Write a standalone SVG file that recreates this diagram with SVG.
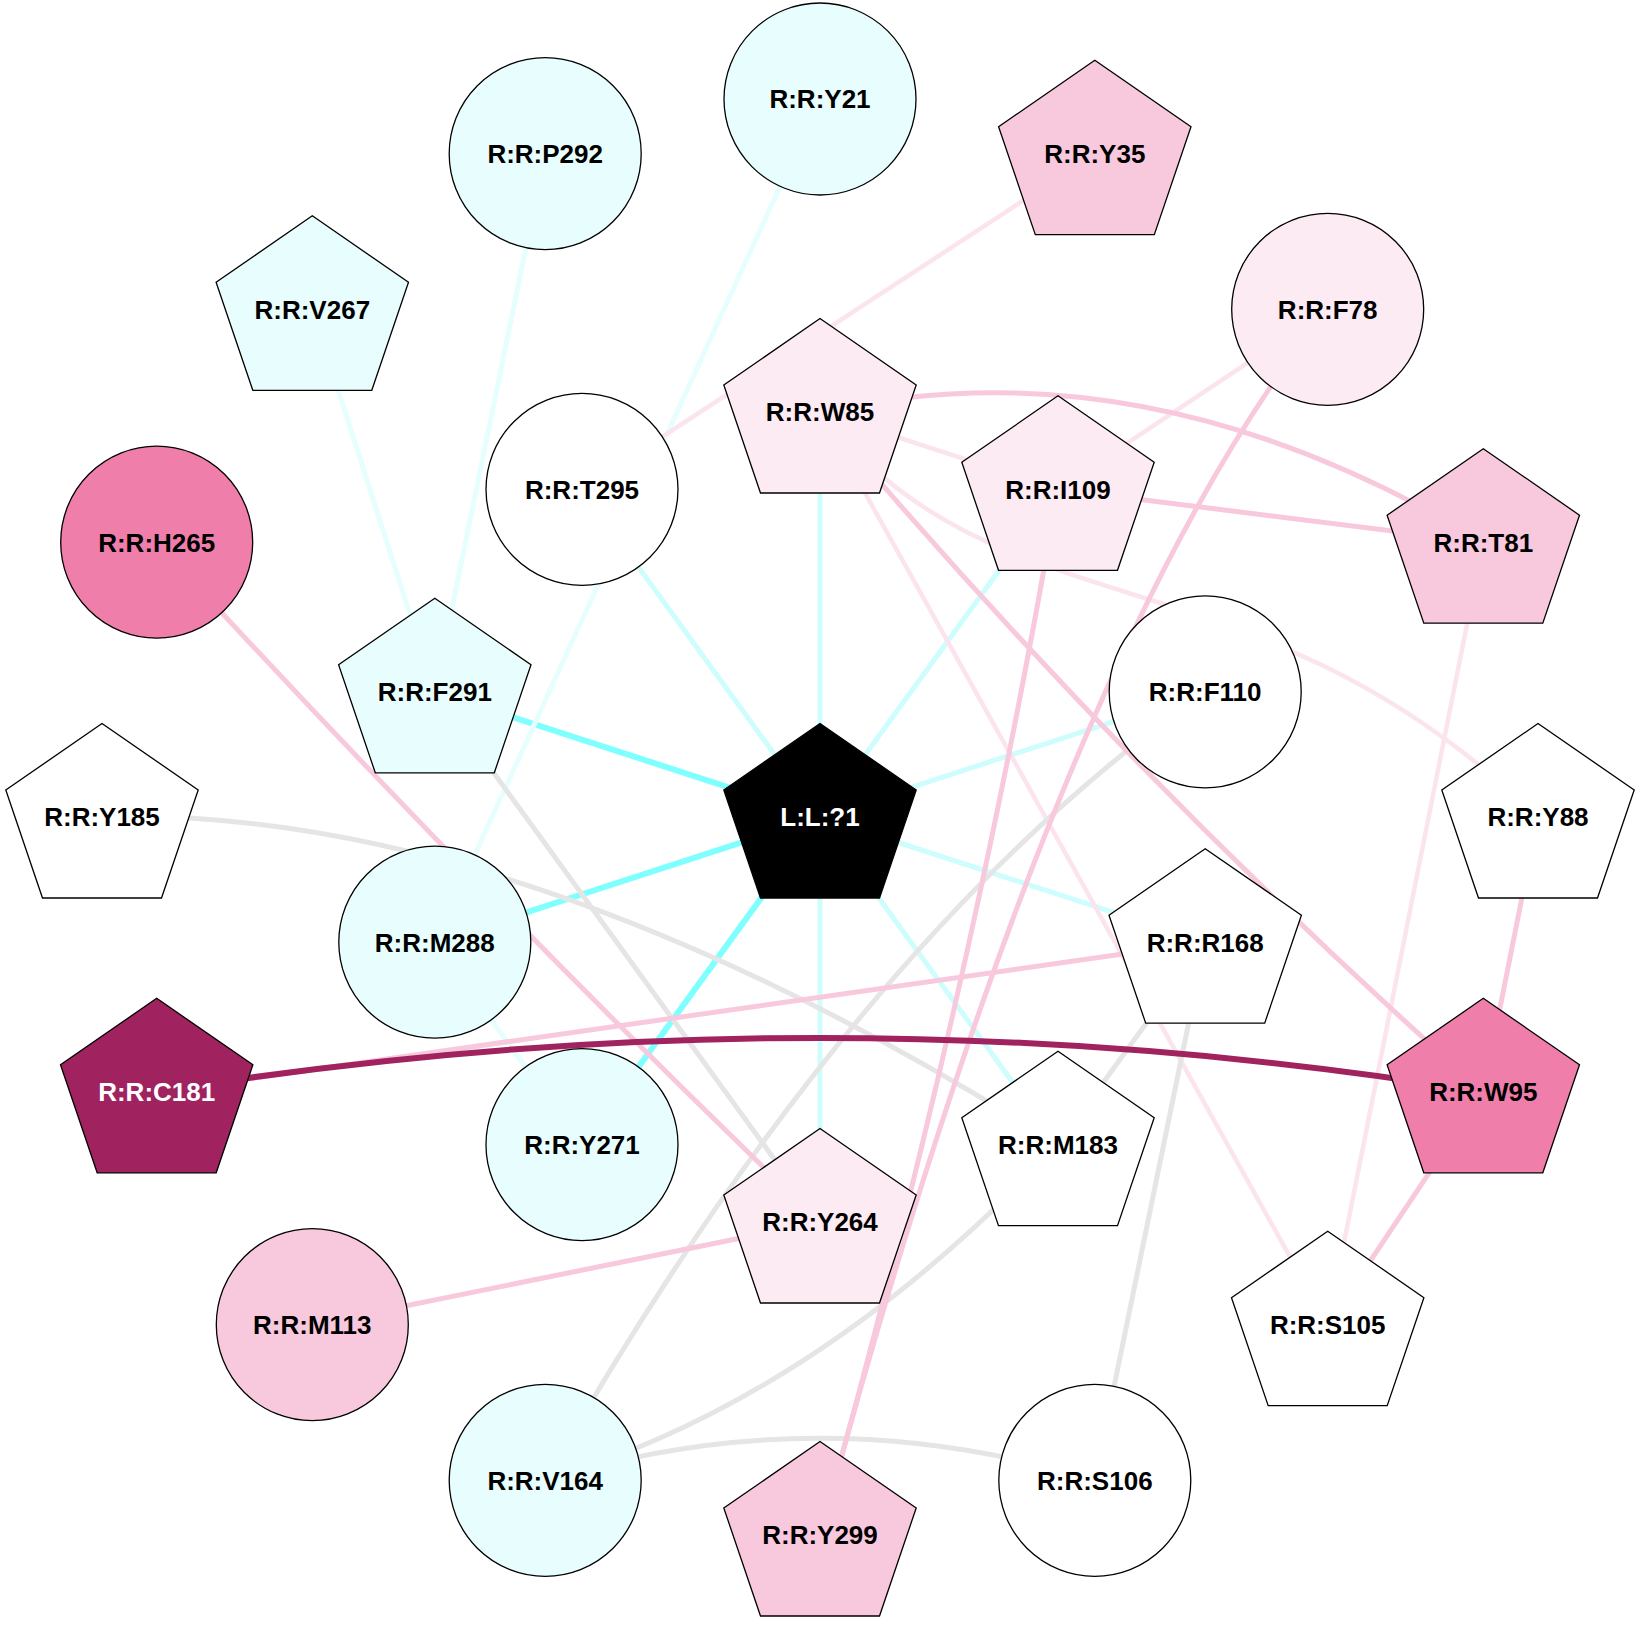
<svg xmlns="http://www.w3.org/2000/svg" xmlns:xlink="http://www.w3.org/1999/xlink" width="1640" height="1640" viewBox="0 0 1640 1640">
<defs>
<style>
.e{fill:none;stroke-linecap:butt}
.c0{stroke:#e6fefe;stroke-width:5}
.c1{stroke:#cdfdfd;stroke-width:5}
.c2{stroke:#80ffff;stroke-width:6}
.p1{stroke:#fbe4ee;stroke-width:4.5}
.p2{stroke:#f8c8dc;stroke-width:5}
.p3{stroke:#a0235f;stroke-width:6}
.g{stroke:#e5e5e5;stroke-width:5}
.n{stroke:#000;stroke-width:1.3}
.cy{fill:#e8fdfd}
.lp{fill:#fcebf3}
.pk{fill:#f8c8dc}
.hp{fill:#f07eab}
.mg{fill:#a0235f}
.wh{fill:#ffffff}
.bk{fill:#000000}
text{font-family:"Liberation Sans",Arial,sans-serif;font-weight:bold;font-size:26px;text-anchor:middle;fill:#000}
text.w{fill:#fff}
</style>
<polygon id="pent" points="0,-93.5 96.2,-27 59.5,81 -59.5,81 -96.2,-27"/>
</defs>
<rect width="1640" height="1640" fill="#fff"/>
<g id="edges">
<path class="e c1" d="M820,817 L820,412"/>
<path class="e c1" d="M820,817 L1058,489.3"/>
<path class="e c1" d="M820,817 L1205.2,691.8"/>
<path class="e c1" d="M820,817 L1205.2,942.2"/>
<path class="e c1" d="M820,817 L1058,1144.7"/>
<path class="e c1" d="M820,817 L820,1222"/>
<path class="e c1" d="M820,817 L582,489.3"/>
<path class="e c2" d="M820,817 L582,1144.7"/>
<path class="e c2" d="M820,817 L434.8,942.2"/>
<path class="e c2" d="M820,817 L434.8,691.8"/>
<path class="e c0" d="M820,99 L434.8,942.2"/>
<path class="e c0" d="M545.2,153.7 L434.8,691.8"/>
<path class="e c0" d="M312.3,309.3 L434.8,691.8"/>
<path class="e c0" d="M434.8,942.2 L582,1144.7"/>
<path class="e p1" d="M1094.8,153.7 L582,489.3"/>
<path class="e p1" d="M1327.7,309.3 L1058,489.3"/>
<path class="e p1" d="M820,412 L1058,489.3"/>
<path class="e p1" d="M820,412 L1327.7,1324.7"/>
<path class="e p1" d="M820,412 C1000,640 1250,540 1538,817"/>
<path class="e p1" d="M1483.3,542.2 L1327.7,1324.7"/>
<path class="e g" d="M102,817 Q520,805 1058,1144.7"/>
<path class="e g" d="M434.8,691.8 L820,1222"/>
<path class="e g" d="M1205.2,691.8 Q855.4,936.5 545.2,1480.3"/>
<path class="e g" d="M1058,1144.7 Q818,1400 545.2,1480.3"/>
<path class="e g" d="M545.2,1480.3 Q820,1396 1094.8,1480.3"/>
<path class="e g" d="M1205.2,942.2 L1094.8,1480.3"/>
<path class="e g" d="M1205.2,942.2 L1058,1144.7"/>
<path class="e p2" d="M820,412 Q1148.5,339 1483.3,542.2"/>
<path class="e p2" d="M820,412 Q1127,776 1483.3,1091.8"/>
<path class="e p2" d="M1058,489.3 L1483.3,542.2"/>
<path class="e p2" d="M1327.7,309.3 Q1060,640 820,1535"/>
<path class="e p2" d="M1058,489.3 Q973,989 820,1535"/>
<path class="e p2" d="M1538,817 L1483.3,1091.8"/>
<path class="e p2" d="M1483.3,1091.8 L1327.7,1324.7"/>
<path class="e p2" d="M156.7,1091.8 L1205.2,942.2"/>
<path class="e p2" d="M312.3,1324.7 L820,1222"/>
<path class="e p2" d="M156.7,542.2 Q478,893 820,1222"/>
<path class="e p3" d="M156.7,1091.8 Q820,984 1483.3,1091.8"/>
</g>
<g id="n-Y21"><circle class="n cy" cx="820" cy="99" r="96"/><text x="820" y="108.3">R:R:Y21</text></g>
<g id="n-Y35"><use xlink:href="#pent" href="#pent" class="n pk" x="1094.8" y="153.7"/><text x="1094.8" y="163">R:R:Y35</text></g>
<g id="n-F78"><circle class="n lp" cx="1327.7" cy="309.3" r="96"/><text x="1327.7" y="318.6">R:R:F78</text></g>
<g id="n-T81"><use xlink:href="#pent" href="#pent" class="n pk" x="1483.3" y="542.2"/><text x="1483.3" y="551.5">R:R:T81</text></g>
<g id="n-Y88"><use xlink:href="#pent" href="#pent" class="n wh" x="1538" y="817"/><text x="1538" y="826.3">R:R:Y88</text></g>
<g id="n-W95"><use xlink:href="#pent" href="#pent" class="n hp" x="1483.3" y="1091.8"/><text x="1483.3" y="1101.1">R:R:W95</text></g>
<g id="n-S105"><use xlink:href="#pent" href="#pent" class="n wh" x="1327.7" y="1324.7"/><text x="1327.7" y="1334">R:R:S105</text></g>
<g id="n-S106"><circle class="n wh" cx="1094.8" cy="1480.3" r="96"/><text x="1094.8" y="1489.6">R:R:S106</text></g>
<g id="n-Y299"><use xlink:href="#pent" href="#pent" class="n pk" x="820" y="1535"/><text x="820" y="1544.3">R:R:Y299</text></g>
<g id="n-V164"><circle class="n cy" cx="545.2" cy="1480.3" r="96"/><text x="545.2" y="1489.6">R:R:V164</text></g>
<g id="n-M113"><circle class="n pk" cx="312.3" cy="1324.7" r="96"/><text x="312.3" y="1334">R:R:M113</text></g>
<g id="n-C181"><use xlink:href="#pent" href="#pent" class="n mg" x="156.7" y="1091.8"/><text class="w" x="156.7" y="1101.1">R:R:C181</text></g>
<g id="n-Y185"><use xlink:href="#pent" href="#pent" class="n wh" x="102" y="817"/><text x="102" y="826.3">R:R:Y185</text></g>
<g id="n-H265"><circle class="n hp" cx="156.7" cy="542.2" r="96"/><text x="156.7" y="551.5">R:R:H265</text></g>
<g id="n-V267"><use xlink:href="#pent" href="#pent" class="n cy" x="312.3" y="309.3"/><text x="312.3" y="318.6">R:R:V267</text></g>
<g id="n-P292"><circle class="n cy" cx="545.2" cy="153.7" r="96"/><text x="545.2" y="163">R:R:P292</text></g>
<g id="n-W85"><use xlink:href="#pent" href="#pent" class="n lp" x="820" y="412"/><text x="820" y="421.3">R:R:W85</text></g>
<g id="n-I109"><use xlink:href="#pent" href="#pent" class="n lp" x="1058" y="489.3"/><text x="1058" y="498.6">R:R:I109</text></g>
<g id="n-F110"><circle class="n wh" cx="1205.2" cy="691.8" r="96"/><text x="1205.2" y="701.1">R:R:F110</text></g>
<g id="n-R168"><use xlink:href="#pent" href="#pent" class="n wh" x="1205.2" y="942.2"/><text x="1205.2" y="951.5">R:R:R168</text></g>
<g id="n-M183"><use xlink:href="#pent" href="#pent" class="n wh" x="1058" y="1144.7"/><text x="1058" y="1154">R:R:M183</text></g>
<g id="n-Y264"><use xlink:href="#pent" href="#pent" class="n lp" x="820" y="1222"/><text x="820" y="1231.3">R:R:Y264</text></g>
<g id="n-Y271"><circle class="n cy" cx="582" cy="1144.7" r="96"/><text x="582" y="1154">R:R:Y271</text></g>
<g id="n-M288"><circle class="n cy" cx="434.8" cy="942.2" r="96"/><text x="434.8" y="951.5">R:R:M288</text></g>
<g id="n-F291"><use xlink:href="#pent" href="#pent" class="n cy" x="434.8" y="691.8"/><text x="434.8" y="701.1">R:R:F291</text></g>
<g id="n-T295"><circle class="n wh" cx="582" cy="489.3" r="96"/><text x="582" y="498.6">R:R:T295</text></g>
<g id="n-L1"><use xlink:href="#pent" href="#pent" class="n bk" x="820" y="817"/><text class="w" x="820" y="826.3">L:L:?1</text></g>
</svg>
